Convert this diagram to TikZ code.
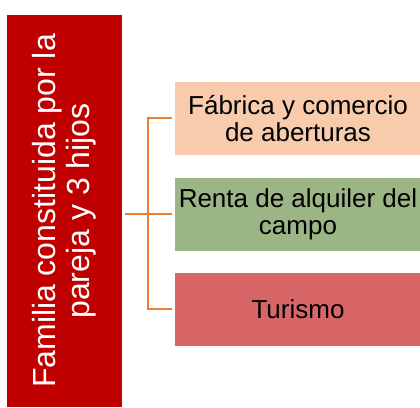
\documentclass[tikz,border=0pt]{standalone}
\usepackage{fontspec}
\setmainfont{Liberation Sans}
\definecolor{famred}{HTML}{C00000}
\definecolor{peach}{HTML}{F8CBAD}
\definecolor{sage}{HTML}{9BB584}
\definecolor{rose}{HTML}{D96666}
\definecolor{orng}{HTML}{ED7D31}
\begin{document}
\begin{tikzpicture}[x=1pt,y=-1pt,
  itembox/.style={draw=none,inner sep=0pt,minimum width=246pt,minimum height=73pt,align=center,
    font=\fontsize{26}{27}\selectfont,text=black},
  link/.style={draw=orng,line width=2.6pt}]
\useasboundingbox (0,0) rectangle (420,407);
\node[fill=famred,text=white,rotate=90,inner sep=0pt,minimum width=392pt,minimum height=115pt,
  align=center,font=\fontsize{32}{34}\selectfont] (fam) at (64.5,211)
  {Familia constituida por la\\pareja y 3 hijos};
\node[itembox,fill=peach] (b1) at (298,118.5) {Fábrica y comercio\\de aberturas};
\node[itembox,fill=sage] (b2) at (298,214) {Renta de alquiler del\\campo};
\node[itembox,fill=rose] (b3) at (298,309.5) {Turismo};
\coordinate (s0) at (125,214);
\coordinate (v1) at (148,118);
\coordinate (v3) at (148,309);
\coordinate (e1) at (172,118);
\coordinate (e2) at (172,214);
\coordinate (e3) at (172,309);
\draw[link] (s0) -- (e2);
\draw[link] (e1) -- (v1) -- (v3) -- (e3);
\end{tikzpicture}
\end{document}
